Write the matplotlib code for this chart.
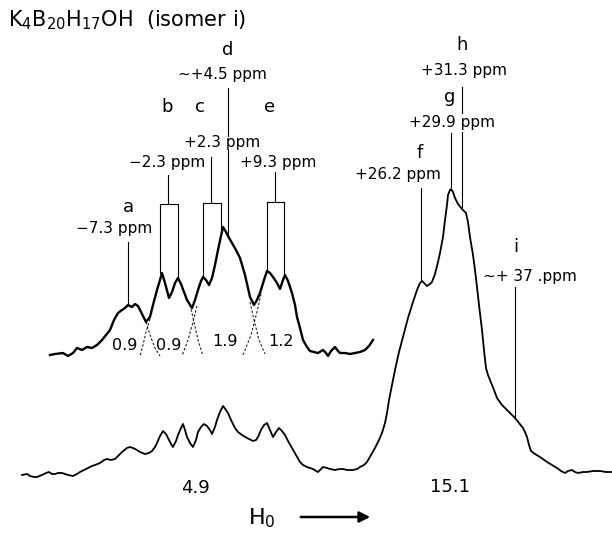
import matplotlib.pyplot as plt

# traces, in picture pixels (x right, y down)
upper_x = [50, 55, 63, 68, 73, 77, 82, 87, 92, 97, 102, 106, 110, 114, 118, 122, 125, 128, 132, 135,
           138, 140, 143, 146, 150, 153, 157, 160, 162, 165, 169, 172, 175, 178, 181, 184, 187, 192,
           195, 198, 201, 203, 206, 209, 212, 215, 218, 221, 223, 226, 228, 232, 236, 240, 245, 250,
           254, 257, 260, 264, 267, 270, 273, 277, 280, 283, 285, 288, 292, 295, 297, 300, 303, 307,
           310, 314, 318, 323, 326, 328, 331, 335, 338, 340, 345, 350, 355, 360, 365, 369, 373]
upper_y = [355, 354, 353, 356, 353, 348, 350, 347, 348, 345, 340, 335, 330, 320, 313, 310, 308, 305, 307, 304,
           306, 310, 316, 322, 317, 305, 290, 280, 273, 283, 298, 292, 283, 278, 284, 292, 300, 308,
           300, 290, 281, 277, 280, 285, 278, 265, 250, 236, 227, 232, 236, 243, 250, 258, 275, 297,
           305, 300, 293, 280, 271, 273, 277, 283, 289, 280, 275, 281, 293, 305, 317, 328, 340, 347,
           351, 352, 353, 350, 353, 356, 351, 347, 351, 353, 353, 354, 353, 352, 350, 346, 340]

lower_x = [22, 27, 30, 34, 37, 42, 46, 49, 52, 55, 58, 62, 65, 68, 73, 77, 80, 84, 88, 92, 95, 100, 104,
           107, 111, 115, 118, 122, 127, 130, 133, 137, 140, 145, 149, 152, 155, 157, 160, 163, 166, 168,
           171, 173, 176, 178, 181, 183, 185, 187, 190, 193, 196, 198, 201, 204, 207, 210, 212, 215, 217,
           220, 223, 226, 228, 231, 235, 238, 242, 247, 253, 256, 258, 261, 264, 267, 270, 273, 276, 279,
           282, 285, 288, 292, 296, 300, 303, 307, 310, 313, 316, 318, 321, 323, 327, 330, 335, 340, 343,
           347, 353, 357, 360, 364, 367, 371, 375, 379, 382, 385, 387, 389, 391, 393, 395, 399, 403, 408,
           413, 417, 420, 422, 425, 427, 430, 432, 435, 438, 440, 443, 445, 447, 448, 450, 451, 453, 455,
           458, 462, 466, 468, 470, 473, 475, 477, 479, 482, 484, 486, 488, 490, 494, 497, 502, 507, 511,
           515, 519, 523, 525, 527, 529, 531, 535, 540, 547, 552, 557, 561, 565, 568, 572, 575, 578, 583,
           587, 593, 600, 606, 612]
lower_y = [475, 474, 476, 477, 477, 475, 473, 472, 474, 474, 473, 473, 474, 475, 476, 474, 472, 470, 468,
           466, 465, 463, 460, 459, 460, 459, 456, 452, 448, 447, 448, 450, 452, 454, 453, 451, 447, 443,
           436, 431, 434, 438, 444, 447, 441, 435, 428, 424, 430, 437, 443, 447, 440, 432, 427, 424, 426,
           430, 434, 427, 420, 412, 406, 410, 413, 420, 428, 432, 435, 438, 441, 440, 437, 430, 425, 423,
           430, 437, 432, 428, 431, 435, 441, 448, 455, 462, 465, 467, 468, 469, 471, 472, 469, 467, 468,
           469, 470, 469, 469, 470, 470, 469, 467, 465, 462, 455, 448, 440, 433, 423, 413, 400, 390, 380,
           370, 352, 337, 318, 302, 290, 283, 281, 284, 286, 284, 282, 274, 262, 253, 237, 220, 205, 195,
           190, 189, 192, 198, 204, 209, 213, 222, 237, 255, 270, 287, 305, 330, 350, 368, 375, 380, 390,
           398, 405, 410, 414, 418, 423, 428, 432, 437, 445, 451, 454, 457, 462, 465, 468, 471, 473, 471,
           470, 472, 473, 472, 472, 471, 471, 472, 472]

# dashed deconvolution tails
tails = [
    ([146, 150, 155, 160], [322, 335, 348, 356]),
    ([150, 146, 143, 140], [319, 332, 345, 356]),
    ([190, 194, 198, 203], [305, 322, 340, 356]),
    ([197, 193, 188, 182], [306, 322, 340, 356]),
    ([250, 254, 259, 265], [302, 320, 340, 354]),
    ([261, 257, 251, 243], [294, 312, 335, 355]),
]

# marker lines (x, y_top, y_bottom)
markers = [
    (128, 242, 305),            # a
    (168, 175, 204),            # b stem
    (160, 204, 273), (178, 204, 278),
    (211, 157, 203),            # c stem
    (203, 203, 277), (221, 203, 229),
    (228, 88, 136), (228, 150, 237),   # d
    (275, 172, 202),            # e stem
    (267, 202, 270), (284, 202, 277),
    (421, 188, 280),            # f
    (451, 133, 187),            # g
    (462, 87, 113), (462, 132, 207),   # h
    (515, 287, 417),            # i
]
bracket_bars = [(160, 178, 204), (203, 221, 203), (267, 284, 202)]

peak_labels = [
    ('a', 128, 207), ('b', 167, 107), ('c', 200, 107), ('d', 228, 50), ('e', 270, 107),
    ('f', 420, 153), ('g', 450, 97), ('h', 462, 45), ('i', 516, 247),
]
shift_labels = [
    ('\u2212' + '7.3 ppm', 114, 229), ('\u2212' + '2.3 ppm', 167, 163), ('+2.3 ppm', 222, 143),
    ('\u223c+4.5 ppm', 222, 75), ('+9.3 ppm', 278, 162), ('+26.2 ppm', 398, 175),
    ('+29.9 ppm', 452, 123), ('+31.3 ppm', 464, 70), ('\u223c+ 37 .ppm', 530, 276),
]
areas = [('0.9', 125, 345), ('0.9', 169, 345), ('1.9', 225, 341), ('1.2', 281, 341)]
totals = [('4.9', 195, 488), ('15.1', 450, 487)]

fig = plt.figure(figsize=(6.12, 5.33), dpi=100)
ax = fig.add_axes([0, 0, 1, 1])
ax.set_xlim(0, 612)
ax.set_ylim(533, 0)
ax.axis('off')

ax.plot(upper_x, upper_y, color='black', lw=1.7)
ax.plot(lower_x, lower_y, color='black', lw=1.3)
for tx, ty in tails:
    ax.plot(tx, ty, color='black', lw=0.7, ls=(0, (2.5, 2)))
for x, y0, y1 in markers:
    ax.plot([x, x], [y0, y1], color='black', lw=0.8)
for x0, x1, y in bracket_bars:
    ax.plot([x0, x1], [y, y], color='black', lw=0.8)

for s, x, y in peak_labels:
    ax.text(x, y, s, fontsize=13, ha='center', va='center')
for s, x, y in shift_labels:
    ax.text(x, y, s, fontsize=11, ha='center', va='center')
for s, x, y in areas:
    ax.text(x, y, s, fontsize=11.5, ha='center', va='center')
for s, x, y in totals:
    ax.text(x, y, s, fontsize=13, ha='center', va='center')

ax.text(8, 20, r'K$_4$B$_{20}$H$_{17}$OH  (isomer i)', fontsize=15, ha='left', va='center')
ax.text(262, 518, r'H$_0$', fontsize=16, ha='center', va='center')
ax.annotate('', xy=(373, 517), xytext=(298, 517),
            arrowprops=dict(arrowstyle='-|>', color='black', lw=1.8, mutation_scale=16))

fig.savefig('out.png', dpi=100)
